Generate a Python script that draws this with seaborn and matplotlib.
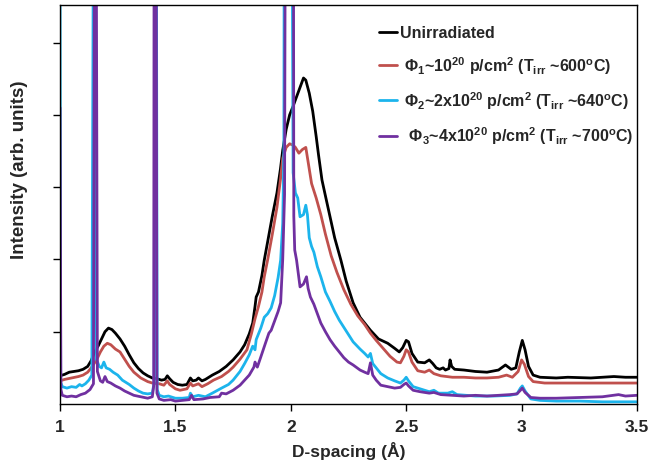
import numpy as np
import pandas as pd
import matplotlib
matplotlib.use("Agg")
import matplotlib.pyplot as plt
from matplotlib import font_manager
import seaborn as sns

# ---- data: D-spacing (Angstrom) and intensity (arb. units) for each condition ----
d_unirr = [1.000, 1.02, 1.04, 1.06, 1.08, 1.10, 1.12, 1.135, 1.15, 1.165, 1.18, 1.195, 1.21, 1.225,
           1.24, 1.26, 1.28, 1.30, 1.32, 1.34, 1.36, 1.38, 1.40, 1.42, 1.44, 1.455, 1.465, 1.475,
           1.49, 1.51, 1.53, 1.55, 1.565, 1.575, 1.59, 1.60, 1.615, 1.63, 1.66, 1.69, 1.72, 1.75,
           1.78, 1.80, 1.82, 1.835, 1.845, 1.85, 1.86, 1.875, 1.885, 1.90, 1.92, 1.94, 1.955, 1.965,
           1.98, 1.995, 2.01, 2.025, 2.04, 2.055, 2.065, 2.08, 2.095, 2.11, 2.12, 2.135, 2.15, 2.17,
           2.19, 2.217, 2.24, 2.27, 2.30, 2.345, 2.38, 2.42, 2.45, 2.47, 2.485, 2.50, 2.51, 2.525,
           2.55, 2.58, 2.60, 2.615, 2.63, 2.645, 2.66, 2.67, 2.685, 2.69, 2.697, 2.71, 2.75, 2.80,
           2.85, 2.90, 2.93, 2.955, 2.975, 2.99, 3.003, 3.015, 3.03, 3.05, 3.08, 3.15, 3.20, 3.30,
           3.40, 3.45, 3.50]
i_unirr = [0.39, 0.41, 0.44, 0.45, 0.46, 0.48, 0.52, 0.60, 0.72, 0.80, 0.90, 1.00, 1.05, 1.03,
           0.98, 0.90, 0.80, 0.68, 0.57, 0.49, 0.43, 0.39, 0.36, 0.35, 0.33, 0.34, 0.39, 0.35,
           0.30, 0.27, 0.26, 0.27, 0.36, 0.32, 0.33, 0.36, 0.32, 0.34, 0.40, 0.45, 0.52, 0.61,
           0.72, 0.82, 0.97, 1.12, 1.35, 1.48, 1.55, 1.78, 1.99, 2.25, 2.60, 2.92, 3.25, 3.51,
           3.80, 4.00, 4.12, 4.25, 4.38, 4.51, 4.48, 4.30, 4.05, 3.70, 3.45, 3.10, 2.88, 2.59,
           2.30, 1.99, 1.70, 1.40, 1.20, 1.02, 0.90, 0.84, 0.77, 0.72, 0.78, 0.88, 0.86, 0.70,
           0.58, 0.57, 0.61, 0.56, 0.50, 0.48, 0.50, 0.47, 0.49, 0.61, 0.52, 0.48, 0.47, 0.45,
           0.44, 0.47, 0.54, 0.48, 0.50, 0.72, 0.88, 0.75, 0.52, 0.40, 0.37, 0.36, 0.37, 0.36,
           0.38, 0.37, 0.37]

d_phi1 = [1.000, 1.02, 1.05, 1.08, 1.10, 1.12, 1.14, 1.16, 1.175, 1.19, 1.205, 1.22, 1.24, 1.26,
          1.28, 1.30, 1.32, 1.35, 1.38, 1.40, 1.43, 1.45, 1.465, 1.475, 1.50, 1.52, 1.55, 1.565,
          1.575, 1.60, 1.615, 1.64, 1.665, 1.70, 1.73, 1.75, 1.78, 1.81, 1.83, 1.845, 1.86, 1.875,
          1.885, 1.90, 1.92, 1.94, 1.955, 1.965, 1.98, 1.995, 2.01, 2.02, 2.035, 2.05, 2.065, 2.08,
          2.09, 2.11, 2.13, 2.15, 2.175, 2.20, 2.23, 2.26, 2.29, 2.32, 2.345, 2.37, 2.40, 2.43,
          2.46, 2.475, 2.49, 2.50, 2.51, 2.525, 2.55, 2.58, 2.60, 2.62, 2.65, 2.70, 2.75, 2.80,
          2.85, 2.90, 2.935, 2.96, 2.985, 3.000, 3.012, 3.03, 3.05, 3.10, 3.20, 3.30, 3.40, 3.50]
i_phi1 = [0.32, 0.34, 0.36, 0.38, 0.40, 0.44, 0.52, 0.62, 0.72, 0.80, 0.84, 0.82, 0.76, 0.72,
          0.62, 0.52, 0.44, 0.36, 0.31, 0.29, 0.28, 0.26, 0.32, 0.27, 0.21, 0.19, 0.21, 0.29,
          0.25, 0.28, 0.24, 0.28, 0.33, 0.38, 0.45, 0.51, 0.62, 0.75, 0.98, 1.18, 1.35, 1.55,
          1.76, 2.00, 2.35, 2.72, 3.10, 3.40, 3.55, 3.60, 3.58, 3.55, 3.47, 3.52, 3.55, 3.25,
          3.05, 2.85, 2.62, 2.35, 2.05, 1.82, 1.58, 1.38, 1.22, 1.10, 0.98, 0.88, 0.77, 0.66,
          0.58, 0.57, 0.66, 0.75, 0.72, 0.58, 0.46, 0.44, 0.47, 0.42, 0.39, 0.37, 0.37, 0.36,
          0.36, 0.37, 0.40, 0.37, 0.45, 0.61, 0.55, 0.38, 0.31, 0.29, 0.29, 0.29, 0.29, 0.29]

d_phi2 = [1.000, 1.003, 1.01, 1.03, 1.05, 1.07, 1.085, 1.095, 1.11, 1.125, 1.138, 1.146, 1.152,
          1.158, 1.17, 1.18, 1.19, 1.20, 1.215, 1.23, 1.25, 1.27, 1.285, 1.30, 1.32, 1.34, 1.36,
          1.38, 1.40, 1.408, 1.411, 1.417, 1.421, 1.43, 1.45, 1.47, 1.50, 1.53, 1.56, 1.565, 1.575,
          1.60, 1.63, 1.66, 1.70, 1.73, 1.75, 1.78, 1.80, 1.82, 1.835, 1.845, 1.85, 1.87, 1.885,
          1.90, 1.915, 1.93, 1.945, 1.956, 1.965, 1.970, 1.972, 2.004, 2.01, 2.02, 2.03, 2.04,
          2.055, 2.065, 2.072, 2.08, 2.09, 2.10, 2.115, 2.13, 2.15, 2.17, 2.19, 2.21, 2.23, 2.25,
          2.27, 2.30, 2.32, 2.335, 2.345, 2.355, 2.37, 2.39, 2.42, 2.45, 2.475, 2.49, 2.50, 2.51,
          2.53, 2.56, 2.60, 2.62, 2.64, 2.68, 2.70, 2.72, 2.80, 2.88, 2.95, 2.98, 2.995, 3.003,
          3.015, 3.04, 3.08, 3.15, 3.25, 3.35, 3.45, 3.50]
i_phi2 = [6.50, 0.30, 0.24, 0.22, 0.24, 0.23, 0.27, 0.25, 0.28, 0.33, 0.40, 8.00, 8.00,
          0.62, 0.52, 0.50, 0.58, 0.50, 0.48, 0.44, 0.40, 0.33, 0.30, 0.27, 0.22, 0.18, 0.15,
          0.14, 0.15, 0.30, 8.00, 8.00, 0.20, 0.12, 0.10, 0.11, 0.08, 0.08, 0.09, 0.15, 0.10,
          0.12, 0.10, 0.15, 0.22, 0.27, 0.33, 0.45, 0.56, 0.68, 0.80, 0.75, 0.89, 1.05, 1.20,
          1.25, 1.33, 1.50, 1.75, 1.99, 2.50, 3.50, 8.00, 8.00, 3.20, 2.92, 2.85, 2.59,
          2.62, 2.75, 2.62, 2.30, 2.18, 2.10, 1.90, 1.76, 1.55, 1.42, 1.28, 1.16, 1.06, 0.96,
          0.86, 0.76, 0.70, 0.65, 0.70, 0.56, 0.50, 0.42, 0.36, 0.32, 0.29, 0.33, 0.37, 0.32,
          0.24, 0.21, 0.17, 0.19, 0.15, 0.15, 0.17, 0.13, 0.11, 0.11, 0.12, 0.14, 0.22, 0.25,
          0.18, 0.07, 0.05, 0.04, 0.04, 0.03, 0.03, 0.03]

d_phi3 = [1.000, 1.004, 1.01, 1.03, 1.05, 1.07, 1.09, 1.11, 1.13, 1.145, 1.150, 1.156, 1.162,
          1.175, 1.185, 1.195, 1.205, 1.22, 1.24, 1.26, 1.28, 1.30, 1.32, 1.35, 1.38, 1.40, 1.406,
          1.408, 1.416, 1.42, 1.43, 1.45, 1.48, 1.50, 1.53, 1.56, 1.57, 1.58, 1.62, 1.65, 1.69,
          1.70, 1.72, 1.75, 1.78, 1.80, 1.82, 1.84, 1.845, 1.855, 1.87, 1.89, 1.905, 1.915, 1.93,
          1.945, 1.956, 1.965, 1.973, 1.977, 2.011, 2.013, 2.017, 2.025, 2.04, 2.055, 2.068, 2.075,
          2.085, 2.10, 2.115, 2.13, 2.15, 2.17, 2.19, 2.215, 2.23, 2.25, 2.27, 2.30, 2.32, 2.335,
          2.345, 2.355, 2.37, 2.39, 2.42, 2.45, 2.475, 2.49, 2.50, 2.51, 2.53, 2.56, 2.60, 2.62,
          2.65, 2.70, 2.75, 2.80, 2.85, 2.90, 2.95, 2.98, 2.995, 3.003, 3.015, 3.04, 3.08, 3.15,
          3.25, 3.35, 3.42, 3.45, 3.50]
i_phi3 = [4.10, 0.20, 0.12, 0.10, 0.11, 0.10, 0.13, 0.15, 0.20, 0.28, 8.00, 8.00, 0.45,
          0.32, 0.30, 0.38, 0.31, 0.29, 0.25, 0.22, 0.18, 0.15, 0.12, 0.10, 0.08, 0.10, 0.25,
          8.00, 8.00, 0.15, 0.07, 0.05, 0.06, 0.04, 0.05, 0.06, 0.12, 0.06, 0.07, 0.09, 0.10,
          0.15, 0.14, 0.19, 0.26, 0.33, 0.40, 0.51, 0.58, 0.51, 0.65, 0.84, 0.98, 1.02, 1.15,
          1.28, 1.40, 2.00, 2.90, 8.00, 8.00, 2.60, 2.13, 1.99, 1.62, 1.66, 1.76, 1.60,
          1.48, 1.38, 1.25, 1.12, 1.00, 0.89, 0.80, 0.70, 0.64, 0.58, 0.54, 0.47, 0.44, 0.42,
          0.57, 0.40, 0.33, 0.26, 0.24, 0.22, 0.23, 0.27, 0.29, 0.25, 0.19, 0.17, 0.15, 0.16,
          0.13, 0.12, 0.11, 0.12, 0.11, 0.12, 0.13, 0.14, 0.19, 0.22, 0.16, 0.09, 0.08, 0.08,
          0.09, 0.10, 0.13, 0.11, 0.12]

series_labels = [
    "Unirradiated",
    " \u03a6$_1$~10$^{20}$ p/cm$^2$ (T$_{irr}$ ~600$^{o}$C)",
    " \u03a6$_2$~2x10$^{20}$ p/cm$^2$ (T$_{irr}$ ~640$^{o}$C)",
    "  \u03a6$_3$~4x10$^{20}$ p/cm$^2$ (T$_{irr}$ ~700$^{o}$C)",
]
series_colors = ["#000000", "#C0504D", "#1CB4EC", "#7030A0"]
x_ticks = [1, 1.5, 2, 2.5, 3, 3.5]
x_tick_labels = ["1", "1.5", "2", "2.5", "3", "3.5"]

# ---- font choice: condensed bold sans if available ----
available = {f.name for f in font_manager.fontManager.ttflist}
if "Liberation Sans Narrow" in available:
    family = "Liberation Sans Narrow"
    fs = 14
else:
    family = "Liberation Sans"
    fs = 12

sns.set_theme(style="ticks")
plt.rcParams["font.family"] = [family, "DejaVu Sans"]
plt.rcParams["font.weight"] = "bold"
plt.rcParams["mathtext.fontset"] = "custom"
plt.rcParams["mathtext.rm"] = f"{family}:bold"
plt.rcParams["mathtext.it"] = f"{family}:bold"
plt.rcParams["mathtext.bf"] = f"{family}:bold"
plt.rcParams["mathtext.default"] = "rm"

frames = []
for lab, d, y in zip(series_labels, [d_unirr, d_phi1, d_phi2, d_phi3],
                     [i_unirr, i_phi1, i_phi2, i_phi3]):
    frames.append(pd.DataFrame({"d": d, "I": y, "series": lab}))
df = pd.concat(frames, ignore_index=True)

fig = plt.figure(figsize=(6.5, 4.64), dpi=100)
ax = fig.add_axes([60 / 650, (464 - 405) / 464, (637 - 60) / 650, (405 - 6) / 464])

sns.lineplot(data=df, x="d", y="I", hue="series", hue_order=series_labels,
             palette=series_colors, sort=False, estimator=None, linewidth=2.0,
             ax=ax, legend=True)

ax.set_xlim(1, 3.5)
ax.set_ylim(0, 5.52)
ax.set_xticks(x_ticks)
ax.set_xticklabels(x_tick_labels, fontsize=fs + 0.5, fontweight="bold")
ax.set_yticks([1, 2, 3, 4, 5])
ax.set_yticklabels([])
ax.tick_params(axis="both", direction="out", length=5, width=1.0, color="black", pad=6)
for s in ax.spines.values():
    s.set_visible(True)
    s.set_color("black")
    s.set_linewidth(1.0)

ax.set_xlabel("D-spacing (\u00c5)", fontsize=fs + 0.5, fontweight="bold", labelpad=5)
ax.set_ylabel("Intensity (arb. units)", fontsize=fs + 1.5, fontweight="bold")
ax.yaxis.set_label_coords(-0.055, 0.59)

handles, labels = ax.get_legend_handles_labels()
leg = ax.legend(handles, labels, loc="upper right", frameon=False, fontsize=fs - 0.5,
                handlelength=1.15, handletextpad=0.15, labelspacing=0.85,
                bbox_to_anchor=(1.018, 0.985))
for t in leg.get_texts():
    t.set_fontweight("bold")

fig.savefig("out.png", dpi=100)
